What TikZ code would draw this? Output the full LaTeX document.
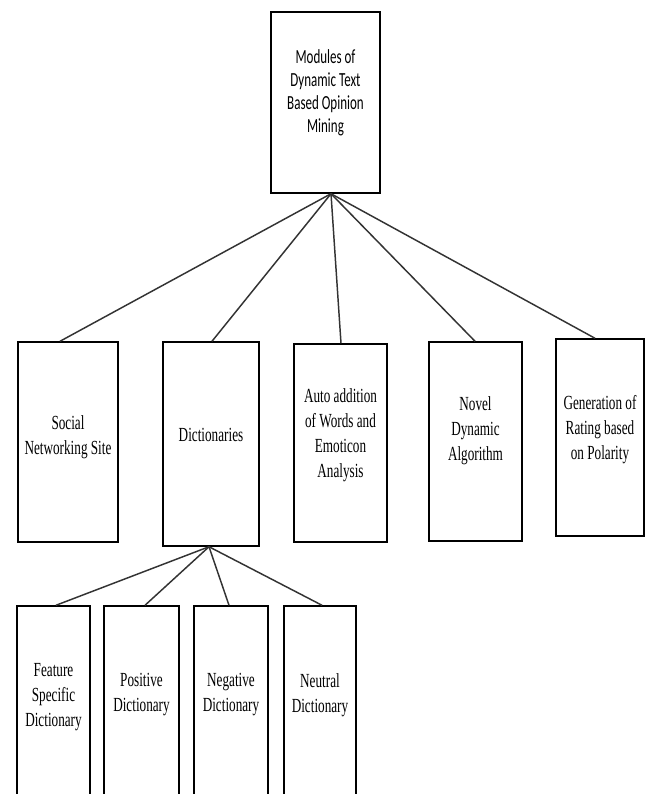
\documentclass[tikz,border=0pt]{standalone}
\usepackage{fontspec}
\setmainfont[FakeStretch=0.66]{Liberation Serif}
\newfontfamily\calib[FakeStretch=0.65]{Carlito}
\usetikzlibrary{calc}
\begin{document}
\begin{tikzpicture}[x=0.75pt,y=-0.75pt,
  box/.style={draw=black,line width=1.1pt,rectangle,inner sep=0pt},
  txt/.style={align=center,font=\fontsize{15}{18.75}\selectfont,inner sep=0pt},
  toptxt/.style={align=center,font=\calib\fontsize{15}{17.25}\selectfont,inner sep=0pt},
  link/.style={draw=black!80,line width=1.1pt}]
\clip (0,0) rectangle (651,794);
\fill[white] (0,0) rectangle (651,794);
% boxes
\node[box,minimum width=0.75*109pt,minimum height=0.75*181pt] (top) at (325.5,102.5) {};
\node[box,minimum width=0.75*100pt,minimum height=0.75*200pt] (social) at (68,442) {};
\node[box,minimum width=0.75*96pt,minimum height=0.75*204pt] (dict) at (211,444) {};
\node[box,minimum width=0.75*93pt,minimum height=0.75*198pt] (auto) at (340.5,443) {};
\node[box,minimum width=0.75*93pt,minimum height=0.75*199pt] (novel) at (475.5,441.5) {};
\node[box,minimum width=0.75*88pt,minimum height=0.75*197pt] (gen) at (600,437.5) {};
\node[box,minimum width=0.75*73pt,minimum height=0.75*214pt] (feat) at (53.5,713) {};
\node[box,minimum width=0.75*75pt,minimum height=0.75*214pt] (pos) at (141.5,713) {};
\node[box,minimum width=0.75*74pt,minimum height=0.75*214pt] (neg) at (231,713) {};
\node[box,minimum width=0.75*72pt,minimum height=0.75*214pt] (neu) at (320,713) {};
% texts
\node[toptxt] (topt) at (325.5,93) {Modules of\\Dynamic Text\\Based Opinion\\Mining};
\node[txt] (socialt) at (68,437) {Social\\Networking Site};
\node[txt] (dictt) at (211,435) {Dictionaries};
\node[txt] (autot) at (340.5,435) {Auto addition\\of Words and\\Emoticon\\Analysis};
\node[txt] (novelt) at (475.5,431) {Novel\\Dynamic\\Algorithm};
\node[txt] (gent) at (600,430) {Generation of\\Rating based\\on Polarity};
\node[txt] (featt) at (53.5,697) {Feature\\Specific\\Dictionary};
\node[txt] (post) at (141.5,695) {Positive\\Dictionary};
\node[txt] (negt) at (231,695) {Negative\\Dictionary};
\node[txt] (neut) at (320,695) {Neutral\\Dictionary};
% hubs
\coordinate (hub) at ($(top.south)+(5.5,0)$);
\coordinate (dhub) at ($(dict.south)+(-2,0)$);
\draw[link] (hub) -- ($(social.north)+(-8,0)$);
\draw[link] (hub) -- ($(dict.north)+(1,0)$);
\draw[link] (hub) -- ($(auto.north)+(0.5,0)$);
\draw[link] (hub) -- ($(novel.north)+(-0.5,0)$);
\draw[link] (hub) -- ($(gen.north)+(-5,0)$);
\draw[link] (dhub) -- ($(feat.north)+(2.5,0)$);
\draw[link] (dhub) -- ($(pos.north)+(3.5,0)$);
\draw[link] (dhub) -- ($(neg.north)+(-2,0)$);
\draw[link] (dhub) -- ($(neu.north)+(2,0)$);
\end{tikzpicture}
\end{document}
